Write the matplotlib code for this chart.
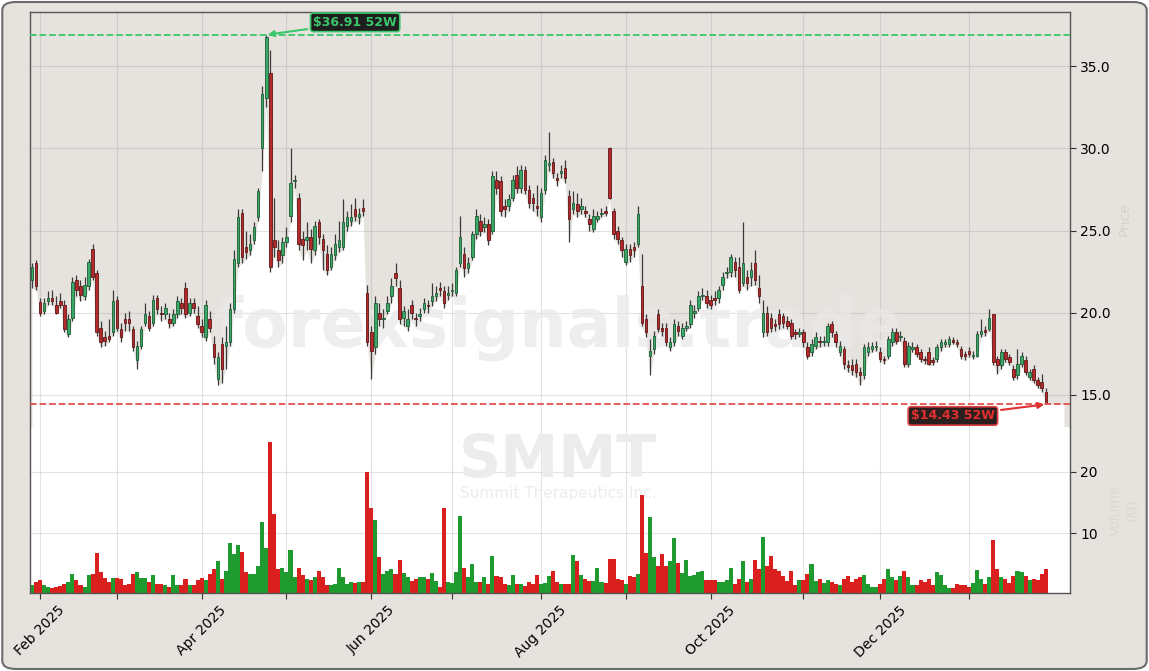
import numpy as np
import pandas as pd
import matplotlib
matplotlib.use("Agg")
import matplotlib.pyplot as plt
from matplotlib.patches import FancyBboxPatch

# SMMT daily candles, Jan 30 2025 .. Jan 30 2026
holidays = ["2025-02-17", "2025-04-18", "2025-05-26", "2025-06-19", "2025-07-04",
            "2025-09-01", "2025-11-27", "2025-12-25", "2026-01-01", "2026-01-19"]
dates = pd.bdate_range("2025-01-30", "2026-01-30")
dates = dates[~dates.isin(pd.to_datetime(holidays))]

opens = [
    22.0, 23.0, 20.65, 20.1, 20.7, 20.9, 20.5, 20.7, 20.5, 18.7,
    19.7, 22.0, 21.6, 21.0, 21.6, 23.9, 22.4, 19.1, 18.5, 18.6,
    18.8, 20.8, 19.0, 19.6, 19.6, 19.0, 17.1, 18.0, 19.4, 19.8,
    19.4, 20.9, 20.0, 19.9, 19.6, 19.4, 19.9, 20.6, 21.5, 20.0,
    20.6, 19.8, 19.2, 18.5, 19.6, 18.1, 16.0, 18.1, 18.0, 18.2,
    20.2, 23.0, 26.1, 24.0, 23.8, 24.4, 25.8, 30.0, 33.05, 34.6,
    24.4, 23.8, 23.5, 24.3, 25.9, 28.0, 27.0, 24.5, 24.4, 24.6,
    23.8, 25.5, 24.5, 23.6, 22.8, 23.5, 24.0, 24.0, 25.3, 25.6,
    26.3, 25.8, 26.4, 21.2, 18.8, 17.9, 20.0, 19.6, 20.1, 21.0,
    22.4, 21.5, 19.7, 19.2, 20.5, 19.7, 19.8, 20.2, 20.5, 20.7,
    21.0, 21.5, 21.3, 21.1, 21.3, 21.2, 23.0, 23.6, 22.7, 23.4,
    24.8, 25.6, 25.2, 25.4, 25.0, 28.1, 28.0, 26.5, 26.5, 27.0,
    28.4, 27.6, 28.7, 27.5, 27.0, 26.5, 25.8, 27.5, 29.0, 29.2,
    28.2, 28.5, 28.8, 27.1, 26.3, 26.6, 26.3, 26.2, 25.7, 25.1,
    25.7, 26.0, 26.2, 30.0, 26.2, 25.0, 24.4, 23.1, 23.9, 24.0,
    24.2, 21.6, 19.6, 17.4, 17.8, 19.9, 19.1, 19.1, 17.9, 18.2,
    19.2, 18.6, 19.1, 19.3, 20.0, 20.3, 21.0, 21.0, 20.8, 20.9,
    20.9, 21.7, 22.4, 22.5, 23.1, 22.8, 21.8, 22.2, 22.2, 23.0,
    21.5, 18.8, 20.0, 19.7, 19.3, 19.9, 19.8, 19.5, 19.4, 18.8,
    18.7, 18.8, 17.9, 17.6, 18.0, 18.3, 18.2, 18.2, 19.3, 18.7,
    17.6, 17.8, 16.8, 16.8, 16.9, 16.4, 16.2, 17.6, 17.8, 17.9,
    17.6, 17.2, 17.4, 18.2, 18.8, 18.5, 18.3, 16.9, 17.8, 17.9,
    17.6, 17.2, 17.6, 17.1, 17.2, 17.9, 18.1, 18.1, 18.35, 18.2,
    17.8, 17.5, 17.7, 17.35, 17.4, 18.7, 18.95, 19.0, 19.9, 17.2,
    16.8, 17.6, 17.3, 16.6, 16.2, 16.9, 17.1, 16.1, 16.6, 15.9,
    15.8, 15.2,
]
highs = [
    23.0, 23.2, 20.9, 20.9, 21.3, 21.4, 21.0, 21.2, 20.8, 19.9,
    22.2, 22.3, 22.0, 22.2, 23.3, 24.2, 22.6, 19.5, 18.9, 19.6,
    21.4, 21.0, 19.4, 20.0, 20.1, 19.2, 18.3, 19.2, 20.6, 20.1,
    21.1, 21.1, 20.4, 20.6, 20.0, 20.2, 21.0, 20.9, 21.9, 20.9,
    20.9, 20.4, 19.6, 20.8, 20.1, 18.6, 17.6, 18.5, 19.2, 20.6,
    23.8, 26.3, 26.3, 25.0, 24.8, 25.5, 27.6, 33.8, 36.91, 36.0,
    27.0, 24.4, 24.6, 25.2, 30.0, 28.4, 27.3, 25.0, 25.5, 25.1,
    25.6, 25.7, 24.8, 24.1, 24.0, 24.8, 25.6, 26.9, 26.2, 26.6,
    27.0, 26.4, 26.9, 21.7, 19.2, 21.0, 20.6, 20.2, 21.0, 22.1,
    23.0, 22.0, 20.4, 20.2, 20.8, 20.0, 20.3, 20.9, 20.8, 21.8,
    21.6, 21.9, 21.6, 21.6, 21.8, 22.8, 25.9, 24.0, 23.4, 25.0,
    26.3, 26.0, 25.8, 25.7, 28.6, 28.6, 28.3, 26.9, 27.2, 28.4,
    28.9, 29.0, 28.9, 27.8, 27.3, 27.8, 27.6, 29.6, 31.0, 29.4,
    28.5, 29.0, 29.3, 27.5, 27.4, 27.3, 27.0, 26.5, 26.0, 26.3,
    26.2, 26.4, 26.5, 30.1, 26.4, 25.3, 24.6, 24.2, 24.2, 24.3,
    26.5, 23.6, 19.9, 18.4, 18.9, 20.2, 19.4, 19.4, 18.5, 19.6,
    19.5, 19.4, 19.5, 20.8, 20.5, 21.3, 21.5, 21.4, 21.1, 21.3,
    21.6, 22.5, 22.8, 23.6, 23.4, 23.4, 25.5, 22.6, 23.1, 23.8,
    22.3, 20.8, 20.4, 20.0, 19.6, 20.2, 20.0, 19.8, 19.6, 19.0,
    19.1, 19.0, 18.2, 18.4, 18.8, 18.6, 18.6, 19.4, 19.5, 18.9,
    18.3, 18.0, 17.1, 17.2, 17.2, 16.7, 18.1, 18.2, 18.2, 18.3,
    17.9, 17.4, 18.6, 19.1, 19.1, 18.9, 18.5, 18.2, 18.2, 18.1,
    17.8, 17.4, 17.9, 17.3, 18.1, 18.4, 18.4, 18.6, 18.5, 18.4,
    18.0, 17.7, 17.9, 17.7, 18.9, 19.6, 19.2, 20.2, 19.9, 17.4,
    17.8, 17.8, 17.5, 16.8, 17.8, 17.6, 17.4, 16.6, 16.8, 16.1,
    16.3, 15.4,
]
lows = [
    21.5, 21.4, 19.8, 19.9, 20.5, 20.5, 19.9, 20.3, 18.8, 18.5,
    19.5, 21.0, 20.7, 20.8, 21.4, 22.0, 18.6, 17.9, 18.0, 18.2,
    18.6, 18.9, 18.2, 18.9, 18.9, 17.7, 16.6, 17.8, 19.2, 18.9,
    19.2, 19.9, 19.5, 19.6, 19.1, 19.2, 19.7, 19.9, 19.7, 19.8,
    20.0, 19.1, 18.5, 18.3, 18.8, 16.9, 15.6, 15.7, 16.6, 18.0,
    20.0, 22.8, 23.0, 23.3, 23.5, 24.2, 25.6, 28.6, 32.5, 22.5,
    23.4, 22.8, 23.0, 24.0, 25.5, 27.6, 23.8, 23.2, 23.8, 23.0,
    23.5, 24.2, 22.6, 22.3, 22.6, 23.2, 23.7, 23.8, 25.0, 25.3,
    25.6, 25.4, 25.9, 18.0, 16.0, 17.5, 19.2, 19.1, 19.9, 20.6,
    21.6, 19.3, 19.2, 18.9, 19.6, 19.2, 19.5, 20.0, 20.0, 20.4,
    20.7, 21.0, 20.3, 20.8, 21.0, 21.0, 22.8, 22.2, 22.4, 23.2,
    24.5, 24.7, 24.9, 24.1, 24.8, 27.2, 25.9, 25.8, 26.2, 26.8,
    27.3, 27.3, 27.2, 26.4, 26.2, 25.9, 25.5, 27.2, 28.6, 28.2,
    27.7, 28.2, 27.9, 24.3, 26.0, 25.8, 26.0, 25.8, 25.0, 24.9,
    25.5, 25.8, 25.9, 26.9, 24.5, 24.2, 23.4, 22.9, 23.1, 23.4,
    24.0, 19.2, 18.5, 16.2, 17.5, 18.8, 18.6, 18.0, 17.7, 18.0,
    18.6, 18.4, 18.9, 19.1, 19.7, 20.1, 20.8, 20.3, 20.2, 20.5,
    20.6, 21.4, 22.1, 22.2, 22.2, 21.2, 21.6, 21.4, 21.6, 21.7,
    20.6, 18.5, 18.6, 18.8, 18.9, 19.0, 19.1, 19.0, 18.4, 18.4,
    18.5, 17.9, 17.2, 17.4, 17.8, 17.9, 18.0, 18.0, 18.5, 17.9,
    17.4, 16.6, 16.4, 16.2, 16.1, 15.6, 16.0, 17.4, 17.6, 17.7,
    17.0, 16.9, 17.2, 18.0, 18.1, 18.3, 16.7, 16.7, 17.6, 17.3,
    17.0, 16.9, 16.8, 16.8, 17.0, 17.7, 17.9, 17.9, 18.1, 17.9,
    17.2, 17.1, 17.3, 17.2, 17.3, 18.5, 18.6, 18.9, 16.8, 16.3,
    16.6, 17.0, 16.8, 15.9, 16.0, 16.7, 16.2, 15.9, 15.7, 15.4,
    15.2, 14.43,
]
closes = [
    22.8, 21.6, 20.0, 20.6, 20.9, 20.7, 20.0, 20.5, 19.0, 19.6,
    21.9, 21.4, 21.1, 21.7, 23.1, 22.2, 18.8, 18.2, 18.3, 18.4,
    20.7, 19.1, 18.5, 19.4, 19.4, 17.9, 18.0, 19.0, 19.9, 19.1,
    20.8, 20.2, 19.9, 20.3, 19.4, 19.9, 20.7, 20.3, 19.9, 20.6,
    20.3, 19.3, 18.8, 20.5, 19.1, 17.3, 17.3, 16.6, 18.2, 20.2,
    23.3, 25.8, 23.4, 23.7, 24.2, 25.2, 27.4, 33.3, 36.8, 22.8,
    24.0, 23.2, 24.3, 24.6, 27.9, 28.1, 24.2, 24.1, 24.6, 23.9,
    25.3, 24.6, 23.8, 22.6, 23.6, 24.2, 24.4, 25.5, 25.8, 25.85,
    25.9, 26.0, 26.2, 18.2, 17.7, 20.6, 19.6, 19.7, 20.6, 21.6,
    22.1, 19.6, 20.1, 19.6, 20.0, 19.6, 19.9, 20.6, 20.4, 21.0,
    21.2, 21.4, 20.6, 21.2, 21.4, 22.6, 24.6, 22.7, 23.0, 24.8,
    25.9, 25.0, 25.4, 24.4, 28.3, 27.6, 26.2, 26.3, 26.9, 28.1,
    27.6, 28.7, 27.5, 26.7, 26.7, 26.4, 27.3, 29.3, 29.1, 28.5,
    28.1, 28.6, 28.2, 25.7, 26.7, 26.2, 26.5, 26.1, 25.4, 25.9,
    25.9, 26.1, 26.1, 27.0, 24.8, 24.5, 23.8, 23.9, 23.5, 23.8,
    26.0, 19.4, 18.8, 17.7, 18.6, 19.0, 18.9, 18.2, 18.2, 19.3,
    18.9, 19.1, 19.2, 20.5, 20.1, 21.0, 21.1, 20.6, 20.5, 20.8,
    21.4, 22.2, 22.5, 23.4, 22.6, 21.4, 23.0, 21.8, 22.6, 22.0,
    21.0, 20.0, 18.8, 19.1, 19.2, 19.3, 19.4, 19.2, 18.6, 18.7,
    18.8, 18.2, 17.4, 18.1, 18.5, 18.2, 18.3, 19.2, 18.8, 18.2,
    18.0, 16.9, 16.7, 16.5, 16.4, 16.2, 17.9, 17.9, 17.95, 18.0,
    17.2, 17.1, 18.4, 18.8, 18.3, 18.6, 16.9, 18.0, 17.9, 17.5,
    17.2, 17.1, 16.9, 17.0, 17.9, 18.2, 18.25, 18.4, 18.25, 18.1,
    17.4, 17.35, 17.5, 17.45, 18.7, 18.9, 18.85, 19.7, 17.0, 16.8,
    17.6, 17.2, 17.0, 16.1, 16.9, 17.4, 16.4, 16.4, 15.9, 15.6,
    15.4, 14.5,
]
# volume in millions
volumes = [
    1.5, 2.0, 2.3, 1.6, 1.2, 1.1, 1.2, 1.35, 1.8, 2.1,
    3.4, 2.3, 1.6, 1.2, 3.2, 3.4, 6.8, 3.7, 2.7, 2.1,
    2.7, 2.7, 2.6, 1.6, 1.8, 3.4, 3.6, 2.7, 2.7, 2.1,
    3.2, 1.8, 1.8, 1.6, 1.2, 3.2, 1.6, 1.6, 2.6, 1.6,
    1.6, 2.4, 2.7, 2.4, 3.4, 4.1, 5.4, 2.6, 3.9, 8.4,
    6.6, 8.1, 7.0, 3.6, 3.4, 3.4, 4.6, 11.8, 7.6, 24.8,
    13.1, 4.2, 4.4, 3.6, 7.3, 2.8, 4.4, 3.2, 2.6, 2.4,
    2.9, 3.9, 2.8, 1.6, 1.5, 1.8, 4.4, 2.9, 1.8, 2.1,
    1.9, 2.1, 2.1, 20.0, 14.1, 12.2, 6.1, 3.4, 3.9, 4.2,
    3.4, 5.7, 3.5, 2.9, 2.2, 2.6, 2.8, 2.9, 2.6, 3.5,
    2.2, 1.3, 14.1, 2.1, 1.9, 3.7, 12.8, 4.3, 2.9, 5.0,
    2.1, 2.1, 2.9, 1.7, 6.2, 3.1, 2.9, 1.7, 1.6, 3.2,
    1.7, 1.7, 1.4, 2.1, 1.7, 3.2, 1.7, 1.9, 3.0, 3.9,
    2.1, 1.7, 1.7, 1.7, 6.5, 5.4, 3.2, 2.6, 2.2, 2.2,
    4.3, 2.1, 1.9, 5.8, 5.8, 2.6, 2.4, 1.8, 3.1, 2.8,
    3.4, 16.2, 6.8, 12.6, 6.1, 4.6, 6.6, 4.6, 5.5, 9.2,
    5.1, 3.5, 5.7, 3.0, 3.2, 3.7, 3.8, 2.3, 2.3, 2.4,
    2.1, 2.1, 2.4, 4.3, 1.7, 2.6, 5.5, 2.1, 2.6, 5.7,
    4.2, 9.4, 4.7, 6.2, 4.1, 3.8, 3.1, 2.2, 3.9, 1.6,
    2.4, 2.3, 3.4, 4.9, 2.2, 2.6, 1.9, 2.3, 2.0, 1.8,
    1.5, 2.6, 3.1, 2.0, 2.6, 2.8, 3.2, 1.8, 1.2, 1.2,
    1.8, 2.6, 4.2, 2.8, 2.4, 3.1, 3.9, 2.9, 1.6, 1.5,
    2.3, 2.0, 2.6, 1.5, 3.6, 3.2, 1.6, 1.1, 1.1, 1.8,
    1.5, 1.6, 1.2, 1.9, 4.0, 2.5, 1.8, 2.8, 8.8, 4.1,
    2.8, 2.6, 1.9, 3.1, 3.8, 3.6, 3.1, 2.3, 2.6, 2.4,
    3.4, 4.1,
]
high_52w = 36.91
low_52w = 14.43
ticker = "SMMT"
company = "Summit Therapeutics Inc."

o = np.array(opens)
h = np.array(highs)
l = np.array(lows)
c = np.array(closes)
v = np.array(volumes)
x = np.arange(len(c))
up = c >= o

BG = "#e6e3de"
fig = plt.figure(figsize=(11.49, 6.71), dpi=100, facecolor="white")
fig.patches.append(FancyBboxPatch((0.002, 0.003), 0.996, 0.994,
                                  boxstyle="round,pad=0,rounding_size=0.012",
                                  transform=fig.transFigure, fc=BG, ec="#6b6b6b",
                                  lw=1.5, zorder=-10))

W, H = 1149, 671
ax = fig.add_axes([30 / W, 1 - 427 / H, 1040 / W, 415 / H])
axv = fig.add_axes([30 / W, 1 - 593 / H, 1040 / W, 166 / H], sharex=ax)
ax.set_facecolor(BG)
axv.set_facecolor("white")

# white area under the lows
xf = np.append(x, x[-1] + 4.5)
lf = np.append(l, l[-1])
ax.fill_between(xf, lf, 0, color="white", zorder=0.3, lw=0)

# candles
ax.vlines(x, l, h, color="#3a3a3a", lw=0.9, zorder=2)
body = np.maximum(np.abs(c - o), 0.06)
ax.bar(x[up], body[up], bottom=np.minimum(o, c)[up], width=0.62,
       color="#3aa866", edgecolor="#1e5c36", lw=0.6, zorder=3)
ax.bar(x[~up], body[~up], bottom=np.minimum(o, c)[~up], width=0.62,
       color="#b52a2a", edgecolor="#5e1717", lw=0.6, zorder=3)

# 52 week lines
ax.axhline(high_52w, color="#3cc76c", ls="--", lw=1.3, zorder=4)
ax.axhline(low_52w, color="#e05050", ls="--", lw=1.3, zorder=4)
i_hi = int(np.argmax(h))
i_lo = int(np.argmin(l))
ax.annotate(r"\$%.2f 52W" % high_52w, xy=(i_hi, high_52w), xytext=(80, 37.67),
            color="#3cc76c", fontsize=9, fontweight="bold", ha="center", va="center",
            bbox=dict(boxstyle="round,pad=0.22", fc="#1e1e1e", ec="#3cc76c", lw=1.2),
            arrowprops=dict(arrowstyle="-|>", color="#3cc76c", lw=1.5,
                            mutation_scale=9, shrinkA=2, shrinkB=1),
            zorder=6)
ax.annotate(r"\$%.2f 52W" % low_52w, xy=(i_lo, low_52w), xytext=(228, 13.72),
            color="#e03030", fontsize=9, fontweight="bold", ha="center", va="center",
            bbox=dict(boxstyle="round,pad=0.22", fc="#2a1e1e", ec="#e04444", lw=1.2),
            arrowprops=dict(arrowstyle="-|>", color="#e03030", lw=1.5,
                            mutation_scale=9, shrinkA=2, shrinkB=1),
            zorder=6)

# volume
axv.bar(x[up], v[up], width=1.0, color="#1f9a2e", lw=0, zorder=2)
axv.bar(x[~up], v[~up], width=1.0, color="#d9201f", lw=0, zorder=2)

# watermarks
ax.text(0.508, 0.24, "forexsignals.trade", transform=ax.transAxes, ha="center",
        va="center", fontsize=48, fontweight="bold", color="#e9e9e9", alpha=0.75,
        zorder=0.6)
axv.text(0.508, 0.80, ticker, transform=axv.transAxes, ha="center", va="center",
         fontsize=42, fontweight="bold", color="#ececec", zorder=0.6)
axv.text(0.508, 0.60, company, transform=axv.transAxes, ha="center", va="center",
         fontsize=11, color="#ececec", zorder=0.6)

# axes styling
ax.set_xlim(-0.5, 257)
ax.set_ylim(13.05, 38.3)
axv.set_ylim(0.26, 27.26)
ax.set_yticks([15, 20, 25, 30, 35])
ax.yaxis.set_major_formatter(matplotlib.ticker.FormatStrFormatter("%.1f"))
axv.set_yticks([10, 20])

month_first = pd.Series(x, index=dates).groupby(dates.to_period("M")).first()
month_first = month_first[month_first.index >= pd.Period("2025-02", "M")]
tick_pos = month_first.values
tick_lab = [p.strftime("%b %Y") if p.month % 2 == 0 else "" for p in month_first.index]
axv.set_xticks(tick_pos)
axv.set_xticklabels(tick_lab, rotation=45, ha="center", fontsize=10)

for a in (ax, axv):
    a.yaxis.tick_right()
    a.yaxis.set_label_position("right")
    a.tick_params(axis="y", labelsize=10, length=4, color="#333333")
    a.grid(True, color="gray", alpha=0.22, lw=0.8)
    a.set_axisbelow(True)
    for s in a.spines.values():
        s.set_color("#555555")
        s.set_linewidth(1.0)
ax.tick_params(axis="x", length=0, labelbottom=False)
axv.tick_params(axis="x", length=4, color="#333333")
ax.spines["bottom"].set_visible(False)
axv.spines["top"].set_visible(False)

ax.set_ylabel("Price", color="#d6d3ce", fontsize=10, labelpad=5)
axv.set_ylabel("Volume\n(M)", color="#dcd9d4", fontsize=10, labelpad=8)

fig.savefig("out.png", dpi=100, facecolor=fig.get_facecolor())
